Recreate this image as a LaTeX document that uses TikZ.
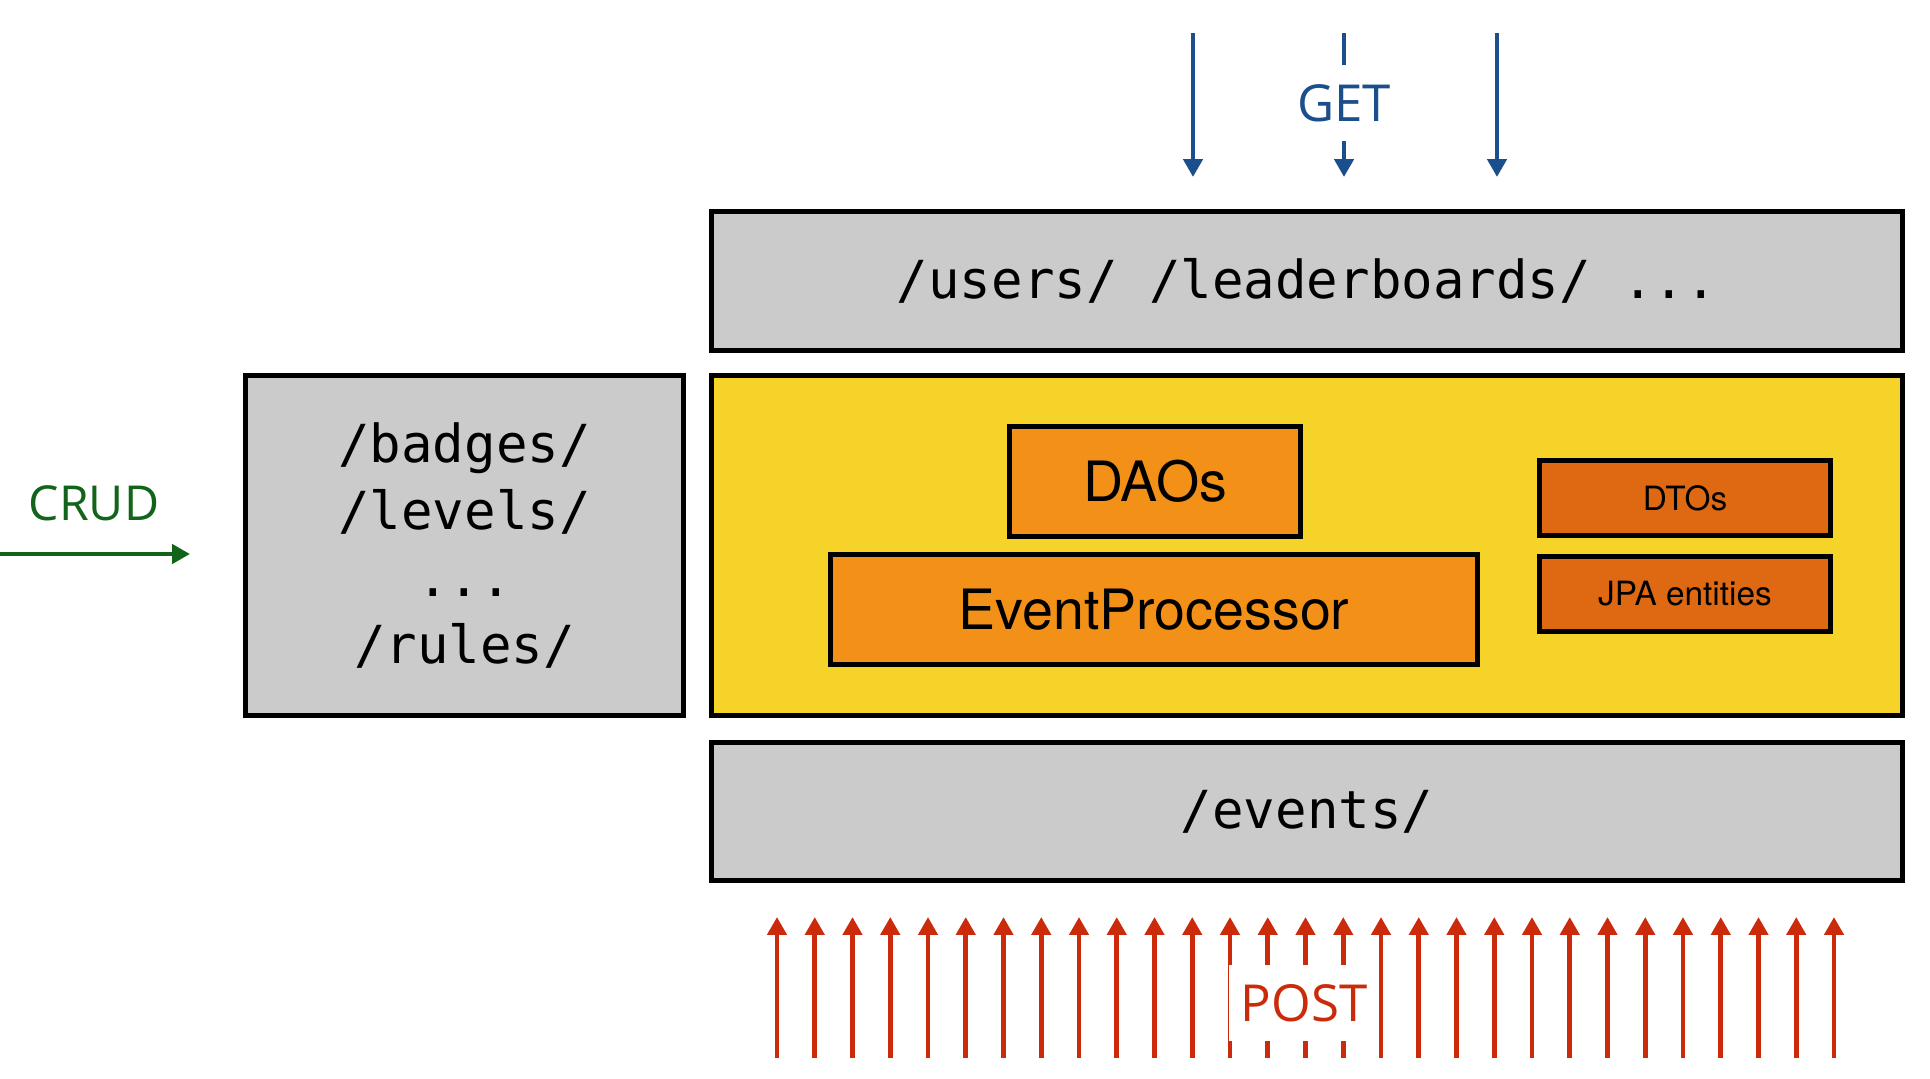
\documentclass[tikz,border=0pt]{standalone}
\usepackage{fontspec}
\setsansfont{TeX Gyre Heros}
\setmonofont{DejaVu Sans Mono}
\newfontfamily\verbfont{Open Sans}
\usetikzlibrary{arrows.meta}

\definecolor{routegray}{HTML}{CBCBCB}
\definecolor{coreyellow}{HTML}{F5D328}
\definecolor{partorange}{HTML}{F29018}
\definecolor{beanorange}{HTML}{DF6912}
\definecolor{getblue}{HTML}{1B4F8C}
\definecolor{postred}{HTML}{CC2B0B}
\definecolor{crudgreen}{HTML}{116419}

\tikzset{
  layer/.style={draw, line width=1.3pt, inner sep=0pt},
  route/.style={layer, fill=routegray, font=\ttfamily\fontsize{14.9}{19}\selectfont, align=center},
  part/.style={layer, fill=partorange, font=\sffamily\fontsize{15.8}{19}\selectfont},
  bean/.style={layer, fill=beanorange, font=\sffamily\fontsize{9.5}{11}\selectfont},
  verb/.style={font=\verbfont\fontsize{14.5}{17}\selectfont},
  call/.style={line width=1.3pt, -{Triangle[length=5.1pt,width=5.4pt]}},
}

\begin{document}
\begin{tikzpicture}[x=0.01cm, y=-0.01cm]
\useasboundingbox (0,0) rectangle (1930,1078);

% layers
\node[route, minimum width=11.9cm, minimum height=1.39cm] (api) at (1307,281) {/users/ /leaderboards/ ...};
\node[layer, fill=coreyellow, minimum width=11.9cm, minimum height=3.4cm] (core) at (1307,545.5) {};
\node[route, minimum width=11.9cm, minimum height=1.38cm] (events) at (1307,811.5) {/events/};
\node[route, minimum width=4.38cm, minimum height=3.4cm] (admin) at (464.5,545.5) {/badges/\\/levels/\\...\\/rules/};

% inside the core
\node[part, minimum width=2.91cm, minimum height=1.1cm] (daos) at (1155,481.5) {DAOs};
\node[part, minimum width=6.47cm, minimum height=1.1cm] (proc) at (1154,609.5) {EventProcessor};
\node[bean, minimum width=2.91cm, minimum height=0.75cm] (dtos) at (1685,498) {DTOs};
\node[bean, minimum width=2.91cm, minimum height=0.75cm] (jpa) at (1685,594) {JPA entities};

% reads
\foreach \x [count=\i] in {1193,1344,1497}
  \draw[call, getblue] (\x,33) coordinate (get\i) -- ++(0,144) coordinate (tip\i);
\node[verb, getblue, fill=white, minimum width=1.2cm, minimum height=0.76cm] (get) at (1344,103) {GET};

% writes
\foreach \i in {0,...,28}
  \draw[call, postred] ({777+37.75*\i},1058) coordinate (src\i) -- ++(0,-141);
\node[verb, postred, fill=white, minimum width=1.44cm, minimum height=0.76cm] (post) at (1304,1003) {POST};

% admin
\draw[call, crudgreen] (0,554) coordinate (crud) -- ++(190,0);
\node[verb, crudgreen, anchor=base, font=\verbfont\fontsize{13.7}{17}\selectfont] (crudlabel) at (94,520) {CRUD};
\end{tikzpicture}
\end{document}
